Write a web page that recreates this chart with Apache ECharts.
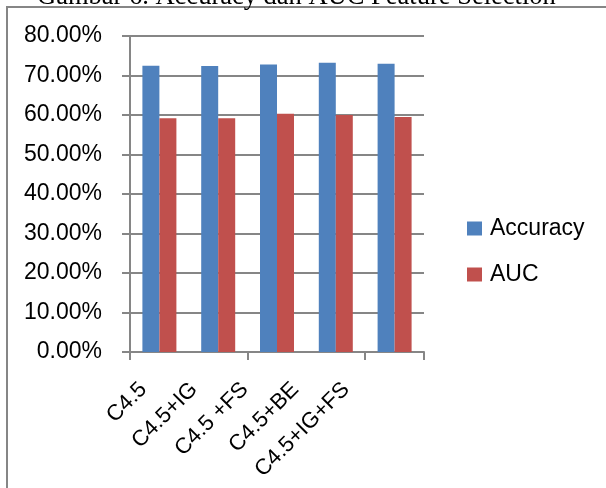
<!DOCTYPE html>
<html>
<head>
<meta charset="utf-8">
<script src="https://cdn.jsdelivr.net/npm/echarts@6/dist/echarts.min.js"></script>
<style>
  html, body { margin: 0; padding: 0; background: #fff; }
  #chart { width: 606px; height: 488px; }
</style>
</head>
<body>
<div id="chart"></div>
<script>
// Feature selection comparison: accuracy and AUC (percent)
const categories = ['C4.5', 'C4.5+IG', 'C4.5 +FS', 'C4.5+BE', 'C4.5+IG+FS'];
const accuracy = [72.5, 72.4, 72.8, 73.2, 73.0];
const auc = [59.2, 59.2, 60.3, 60.0, 59.5];
const yTicks = [0, 10, 20, 30, 40, 50, 60, 70, 80];

const titleText = 'Gambar 6. Accuracy dan AUC Feature Selection';
const FONT = 'Liberation Sans';
const GRAY = '#868686';

const chart = echarts.init(document.getElementById('chart'), null, { renderer: 'canvas' });

chart.setOption({
  animation: false,
  backgroundColor: '#ffffff',
  textStyle: { fontFamily: FONT },
  graphic: [
    {
      type: 'rect',
      shape: { x: 7, y: 7, width: 800, height: 700 },
      style: { fill: 'none', stroke: GRAY, lineWidth: 2 },
      silent: true
    },
    {
      type: 'text',
      left: 37,
      top: -16,
      style: {
        text: titleText,
        font: '26.5px "Liberation Serif"',
        fill: '#000'
      },
      silent: true
    }
  ],
  legend: {
    orient: 'vertical',
    left: 467,
    top: 217,
    padding: 0,
    itemWidth: 15,
    itemHeight: 14,
    itemGap: 23,
    icon: 'rect',
    textStyle: { fontFamily: FONT, fontSize: 23, color: '#000', padding: [0, 0, 0, 3] },
    data: ['Accuracy', 'AUC']
  },
  grid: [
    { left: 130, right: 182, top: 36, bottom: 136, containLabel: false },
    { left: 118, width: 253.5, top: 36, bottom: 136, containLabel: false }
  ],
  xAxis: [
    {
      type: 'category',
      gridIndex: 0,
      data: categories,
      boundaryGap: true,
      axisLine: { lineStyle: { color: GRAY, width: 2 } },
      axisTick: { show: true, length: 8, inside: false, alignWithLabel: false, lineStyle: { color: GRAY, width: 2 } },
      axisLabel: { show: false }
    },
    {
      // label-only axis for the slanted category names
      type: 'category',
      gridIndex: 1,
      data: categories,
      axisLine: { show: false },
      axisTick: { show: false },
      axisLabel: {
        show: true,
        rotate: 45,
        margin: 34,
        interval: 0,
        color: '#000',
        fontFamily: FONT,
        fontSize: 22
      }
    }
  ],
  yAxis: [
    {
      type: 'value',
      gridIndex: 0,
      min: yTicks[0],
      max: yTicks[yTicks.length - 1],
      interval: 10,
      axisLine: { show: true, lineStyle: { color: GRAY, width: 2 } },
      axisTick: { show: true, length: 8, inside: false, lineStyle: { color: GRAY, width: 2 } },
      splitLine: { show: true, lineStyle: { color: GRAY, width: 2 } },
      axisLabel: {
        margin: 28,
        color: '#000',
        fontFamily: FONT,
        fontSize: 23,
        formatter: v => v.toFixed(2) + '%'
      }
    },
    {
      type: 'value',
      gridIndex: 1,
      show: false,
      min: 0,
      max: 80
    }
  ],
  series: [
    {
      name: 'Accuracy',
      type: 'bar',
      xAxisIndex: 0,
      yAxisIndex: 0,
      data: accuracy,
      barWidth: 17,
      barGap: '0%',
      itemStyle: { color: '#4F81BD' }
    },
    {
      name: 'AUC',
      type: 'bar',
      xAxisIndex: 0,
      yAxisIndex: 0,
      data: auc,
      barWidth: 17,
      barGap: '0%',
      itemStyle: { color: '#C0504D' }
    }
  ]
});
</script>
</body>
</html>
